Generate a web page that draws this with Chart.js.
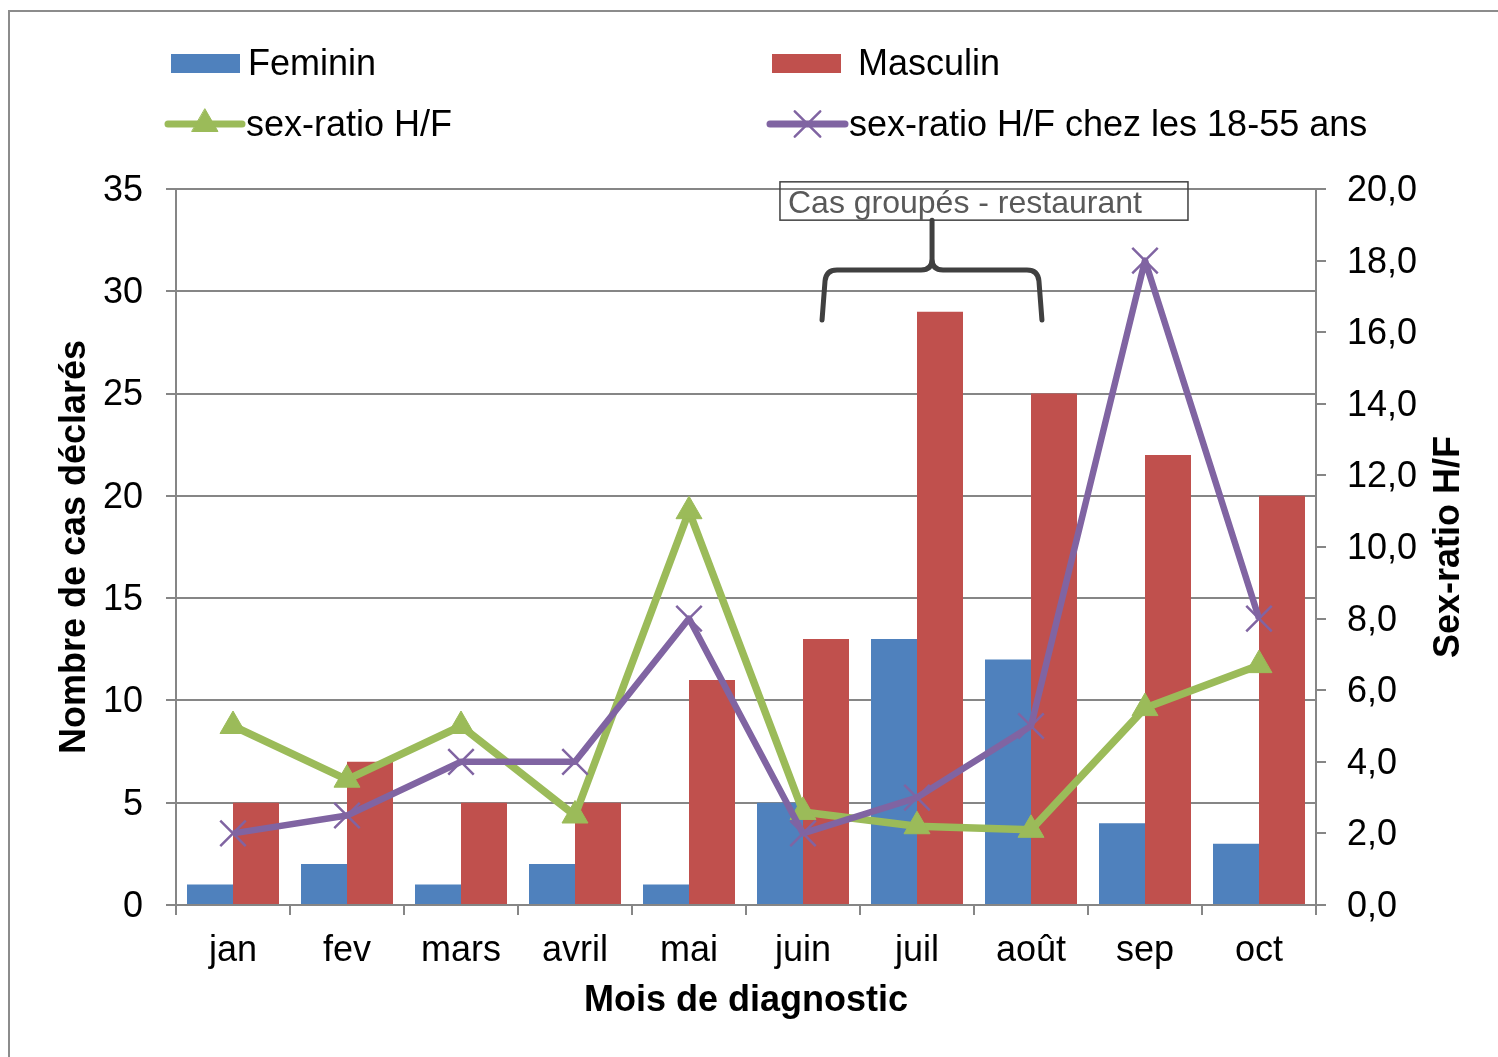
<!DOCTYPE html>
<html lang="fr">
<head>
<meta charset="utf-8">
<title>Cas déclarés par mois de diagnostic</title>
<script src="https://cdn.jsdelivr.net/npm/chart.js@4.4.1/dist/chart.umd.min.js"></script>
<style>
  html, body { margin: 0; padding: 0; background: #fff; overflow: hidden; }
  canvas { display: block; }
</style>
</head>
<body>
<canvas id="casChart" width="1498" height="1057"></canvas>
<script>
// donnees
var mois = ['jan', 'fev', 'mars', 'avril', 'mai', 'juin', 'juil', 'août', 'sep', 'oct'];
var feminin = [1, 2, 1, 2, 1, 5, 13, 12, 4, 3];
var masculin = [5, 7, 5, 5, 11, 13, 29, 25, 22, 20];
var sexRatio = [5.0, 3.5, 5.0, 2.5, 11.0, 2.6, 2.2, 2.1, 5.5, 6.7];
var sexRatio1855 = [2.0, 2.5, 4.0, 4.0, 8.0, 2.0, 3.0, 5.0, 18.0, 8.0];
var ticksCas = [0, 5, 10, 15, 20, 25, 30, 35];
var ticksRatio = [0, 2, 4, 6, 8, 10, 12, 14, 16, 18, 20];

var police = '"Liberation Sans", Arial, sans-serif';
var gris = '#868686';
var bleu = '#4F81BD';
var rouge = '#C0504D';
var vert = '#9BBB59';
var violet = '#8064A2';

// cadre, legende, titre de droite et accolade "cas groupes"
var dessinsPlugin = {
    id: 'dessins',
    beforeDraw: function(chart) {
        var c = chart.ctx;
        c.save();
        c.fillStyle = '#fff';
        c.fillRect(0, 0, chart.width, chart.height);
        c.strokeStyle = '#8c8c8c';
        c.lineWidth = 2;
        c.strokeRect(9, 11, 3000, 3000);
        c.restore();
    },
    afterDraw: function(chart) {
        var c = chart.ctx;
        var ds = chart.data.datasets;
        var area = chart.chartArea;
        var x = chart.scales.x;
        var y1 = chart.scales.y1;

        c.save();
        c.font = '36px ' + police;
        c.fillStyle = '#000';
        c.textBaseline = 'middle';
        c.textAlign = 'left';

        // legende
        c.fillStyle = ds[0].backgroundColor;
        c.fillRect(171, 54, 69, 19);
        c.fillStyle = ds[1].backgroundColor;
        c.fillRect(772, 54, 69, 19);
        c.fillStyle = '#000';
        c.fillText(ds[0].label, 248, 65);
        c.fillText(ds[1].label, 858, 65);

        var lignes = [[ds[2], 168, 242], [ds[3], 770, 845]];
        lignes.forEach(function(l) {
            var d = l[0];
            c.strokeStyle = d.borderColor;
            c.lineWidth = 7;
            c.lineCap = 'round';
            c.beginPath();
            c.moveTo(l[1], 124);
            c.lineTo(l[2], 124);
            c.stroke();
            c.fillStyle = d.pointBackgroundColor;
            c.strokeStyle = d.pointBorderColor;
            c.lineWidth = d.pointBorderWidth;
            Chart.helpers.drawPoint(c, {pointStyle: d.pointStyle, radius: d.pointRadius, borderWidth: d.pointBorderWidth, rotation: 0}, (l[1] + l[2]) / 2, 124);
            c.fillStyle = '#000';
            c.fillText(d.label, l[2] + 4, 126);
        });

        // titre axe de droite, lu de bas en haut
        c.font = 'bold 36px ' + police;
        c.textAlign = 'center';
        c.translate(1449, (area.top + area.bottom) / 2);
        c.rotate(-Math.PI / 2);
        c.fillText('Sex-ratio H/F', 0, 0);
        c.restore();

        // annotation
        c.save();
        var bx1 = x.getPixelForValue(4.798), bx2 = x.getPixelForValue(8.377);
        var by1 = y1.getPixelForValue(20.2), by2 = y1.getPixelForValue(19.13);
        c.strokeStyle = '#404040';
        c.lineWidth = 1.5;
        c.strokeRect(bx1, by1, bx2 - bx1, by2 - by1);
        c.font = '32px ' + police;
        c.fillStyle = '#595959';
        c.textBaseline = 'middle';
        c.fillText('Cas groupés - restaurant', bx1 + 8, (by1 + by2) / 2 + 3);

        var xl = x.getPixelForValue(5.167), xr = x.getPixelForValue(7.096), xt = x.getPixelForValue(6.132);
        var yH = y1.getPixelForValue(17.74), yEnd = y1.getPixelForValue(16.34);
        var r = 11;
        c.strokeStyle = '#404040';
        c.lineWidth = 5;
        c.lineCap = 'round';
        c.lineJoin = 'round';
        c.beginPath();
        c.moveTo(xl, yEnd);
        c.lineTo(xl + 3, yH + r);
        c.quadraticCurveTo(xl + 4, yH, xl + 4 + r, yH);
        c.lineTo(xt - r, yH);
        c.quadraticCurveTo(xt, yH, xt, yH - r);
        c.lineTo(xt, by2);
        c.moveTo(xt, yH - r);
        c.quadraticCurveTo(xt, yH, xt + r, yH);
        c.lineTo(xr - 4 - r, yH);
        c.quadraticCurveTo(xr - 4, yH, xr - 3, yH + r);
        c.lineTo(xr, yEnd);
        c.stroke();
        c.restore();
    }
};

var ctx = document.getElementById('casChart').getContext('2d');

var casChart = new Chart(ctx, {
    type: 'bar',
    data: {
        labels: mois,
        datasets: [{
            label: 'Feminin',
            data: feminin,
            backgroundColor: bleu,
            yAxisID: 'y',
            order: 2,
            categoryPercentage: 0.807,
            barPercentage: 1
        },
        {
            label: 'Masculin',
            data: masculin,
            backgroundColor: rouge,
            yAxisID: 'y',
            order: 2,
            categoryPercentage: 0.807,
            barPercentage: 1
        },
        {
            type: 'line',
            label: 'sex-ratio H/F',
            data: sexRatio,
            yAxisID: 'y1',
            borderColor: vert,
            backgroundColor: vert,
            borderWidth: 7.5,
            borderJoinStyle: 'round',
            pointStyle: 'triangle',
            pointRadius: 15,
            pointBackgroundColor: vert,
            pointBorderColor: vert,
            pointBorderWidth: 1,
            tension: 0,
            order: 1
        },
        {
            type: 'line',
            label: 'sex-ratio H/F chez les 18-55 ans',
            data: sexRatio1855,
            yAxisID: 'y1',
            borderColor: violet,
            backgroundColor: violet,
            borderWidth: 6.5,
            borderJoinStyle: 'round',
            pointStyle: 'crossRot',
            pointRadius: 18,
            pointBackgroundColor: violet,
            pointBorderColor: violet,
            pointBorderWidth: 2.5,
            tension: 0,
            order: 0
        }]
    },
    options: {
        responsive: false,
        animation: false,
        layout: {
            padding: {top: 189, left: 0, right: 0, bottom: 0}
        },
        plugins: {
            legend: {display: false},
            tooltip: {enabled: false}
        },
        scales: {
            x: {
                grid: {drawOnChartArea: false, offset: true, tickLength: 10, color: gris, lineWidth: 2},
                border: {display: false},
                ticks: {color: '#000', font: {family: police, size: 36}, padding: 14, maxRotation: 0, autoSkip: false},
                title: {
                    display: true,
                    text: 'Mois de diagnostic',
                    color: '#000',
                    font: {family: police, size: 36, weight: 'bold'},
                    padding: {top: 0, bottom: 34}
                },
                afterFit: function(s) { s.height = 152; }
            },
            y: {
                position: 'left',
                min: 0,
                max: 35,
                afterBuildTicks: function(s) { s.ticks = ticksCas.map(function(v) { return {value: v}; }); },
                grid: {color: gris, lineWidth: 2, tickLength: 10},
                border: {color: gris, width: 2},
                ticks: {color: '#000', font: {family: police, size: 36}, padding: 23, labelOffset: 2},
                title: {
                    display: true,
                    text: 'Nombre de cas déclarés',
                    color: '#000',
                    font: {family: police, size: 36, weight: 'bold'},
                    padding: {top: 53, bottom: 0}
                },
                afterFit: function(s) { s.width = 176; }
            },
            y1: {
                position: 'right',
                min: 0,
                max: 20,
                afterBuildTicks: function(s) { s.ticks = ticksRatio.map(function(v) { return {value: v}; }); },
                grid: {drawOnChartArea: false, color: gris, lineWidth: 2, tickLength: 10},
                border: {color: gris, width: 2},
                ticks: {
                    color: '#000',
                    font: {family: police, size: 36},
                    padding: 21,
                    labelOffset: 2,
                    callback: function(v) { return v.toFixed(1).replace('.', ','); }
                },
                afterFit: function(s) { s.width = 182; }
            }
        }
    },
    plugins: [dessinsPlugin]
});
</script>
</body>
</html>
